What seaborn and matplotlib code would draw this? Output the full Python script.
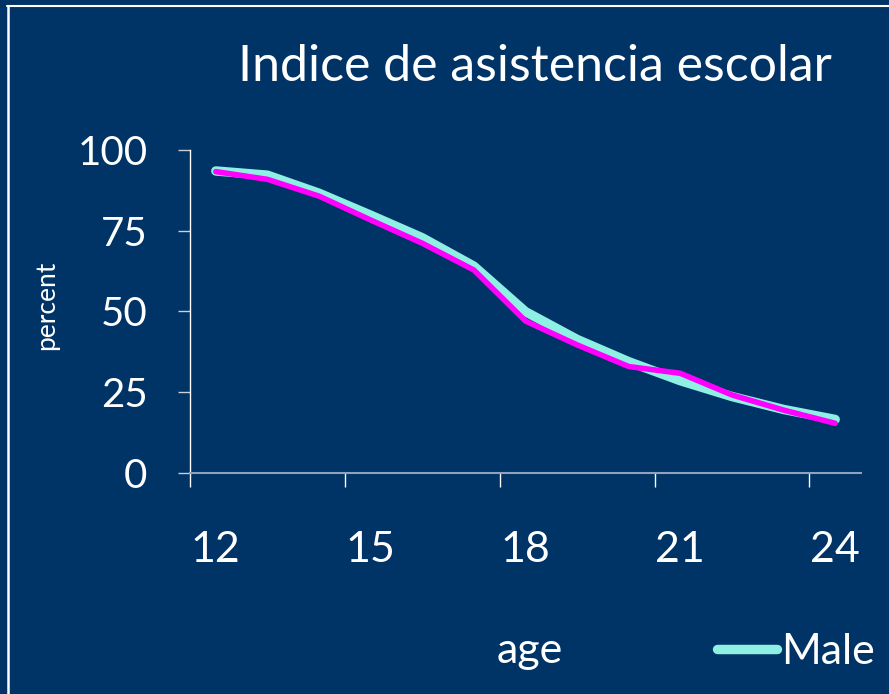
import matplotlib
matplotlib.use("Agg")
import matplotlib.pyplot as plt
from matplotlib.lines import Line2D
import pandas as pd
import seaborn as sns

# ---- data ----
ages = [12, 13, 14, 15, 16, 17, 18, 19, 20, 21, 22, 23, 24]
male = [93.5, 92.2, 86.6, 79.8, 72.8, 64.0, 49.9, 41.3, 34.4, 28.5, 23.6, 19.6, 16.5]
female = [93.3, 90.9, 85.7, 78.3, 71.1, 62.8, 47.0, 39.6, 32.9, 30.8, 24.1, 19.4, 15.3]
x_label_ticks = [12, 15, 18, 21, 24]
x_tick_labels = ["12", "15", "18", "21", "24"]
y_ticks = [0, 25, 50, 75, 100]
y_tick_labels = ["0", "25", "50", "75", "100"]
title = "Indice de asistencia escolar"

BG = "#003366"
CYAN = "#8ef0e2"
MAGENTA = "#ff00ff"
W, H = 889, 694

sns.set_theme(style="white")
plt.rcParams["font.family"] = ["Lato", "DejaVu Sans"]

fig = plt.figure(figsize=(W / 100, H / 100), dpi=100, facecolor=BG)
ax_left, ax_right, ax_bottom, ax_top = 190, 861, 472.7, 150
ax = fig.add_axes([ax_left / W, (H - ax_bottom) / H,
                   (ax_right - ax_left) / W, (ax_bottom - ax_top) / H])
ax.set_facecolor(BG)

df_m = pd.DataFrame({"age": ages, "percent": male})
df_f = pd.DataFrame({"age": ages, "percent": female})
sns.lineplot(data=df_m, x="age", y="percent", color=CYAN, lw=6.8,
             solid_capstyle="round", ax=ax, legend=False)
sns.lineplot(data=df_f, x="age", y="percent", color=MAGENTA, lw=4.0,
             solid_capstyle="round", ax=ax, legend=False)

ax.set_xlim(11.5, 24.5)
ax.set_ylim(0, 100)

for s in ["top", "right"]:
    ax.spines[s].set_visible(False)
ax.spines["left"].set_color("white")
ax.spines["left"].set_linewidth(1.0)
ax.spines["bottom"].set_color("#8fa3bf")
ax.spines["bottom"].set_linewidth(1.5)

# y ticks
ax.set_yticks(y_ticks)
ax.set_yticklabels(y_tick_labels)
ax.tick_params(axis="y", which="major", left=True, direction="out", length=8.6,
               width=1.0, color="#c8d0dc", pad=22, labelsize=29,
               labelcolor="white")

# x ticks: labels at category centres, marks at category boundaries
ax.set_xticks(x_label_ticks)
ax.set_xticklabels(x_tick_labels)
ax.set_xticks([v - 0.5 for v in x_label_ticks], minor=True)
ax.tick_params(axis="x", which="major", bottom=True, length=0, pad=42,
               labelsize=31, labelcolor="white")
ax.tick_params(axis="x", which="minor", bottom=True, direction="out",
               length=10, width=1.0, color="white")

ax.set_xlabel("age", fontsize=31, color="white")
ax.xaxis.set_label_coords((529.5 - ax_left) / (ax_right - ax_left),
                          (ax_bottom - 663) / (ax_bottom - ax_top))
ax.xaxis.label.set_va("baseline")
ax.set_ylabel("percent", fontsize=19, color="white")
ax.yaxis.set_label_coords((47 - ax_left) / (ax_right - ax_left),
                          (ax_bottom - 305) / (ax_bottom - ax_top))
ax.yaxis.label.set_va("center")

fig.text(535 / W, 1 - 67 / H, title, ha="center", va="center",
         fontsize=36, color="white")

fig.legend(handles=[ax.lines[0]], labels=["Male"], loc="center left",
           bbox_to_anchor=(717 / W, 1 - 652 / H), frameon=False, fontsize=31,
           handlelength=1.4, handletextpad=0.08, borderpad=0, borderaxespad=0,
           labelcolor="white")

# slide frame
fig.add_artist(Line2D([7 / W, 1], [1 - 6 / H, 1 - 6 / H], transform=fig.transFigure,
                      color="white", lw=1.5))
fig.add_artist(Line2D([7.5 / W, 7.5 / W], [0, 1 - 6 / H], transform=fig.transFigure,
                      color="white", lw=1.8))

fig.savefig("out.png", dpi=100, facecolor=BG)
